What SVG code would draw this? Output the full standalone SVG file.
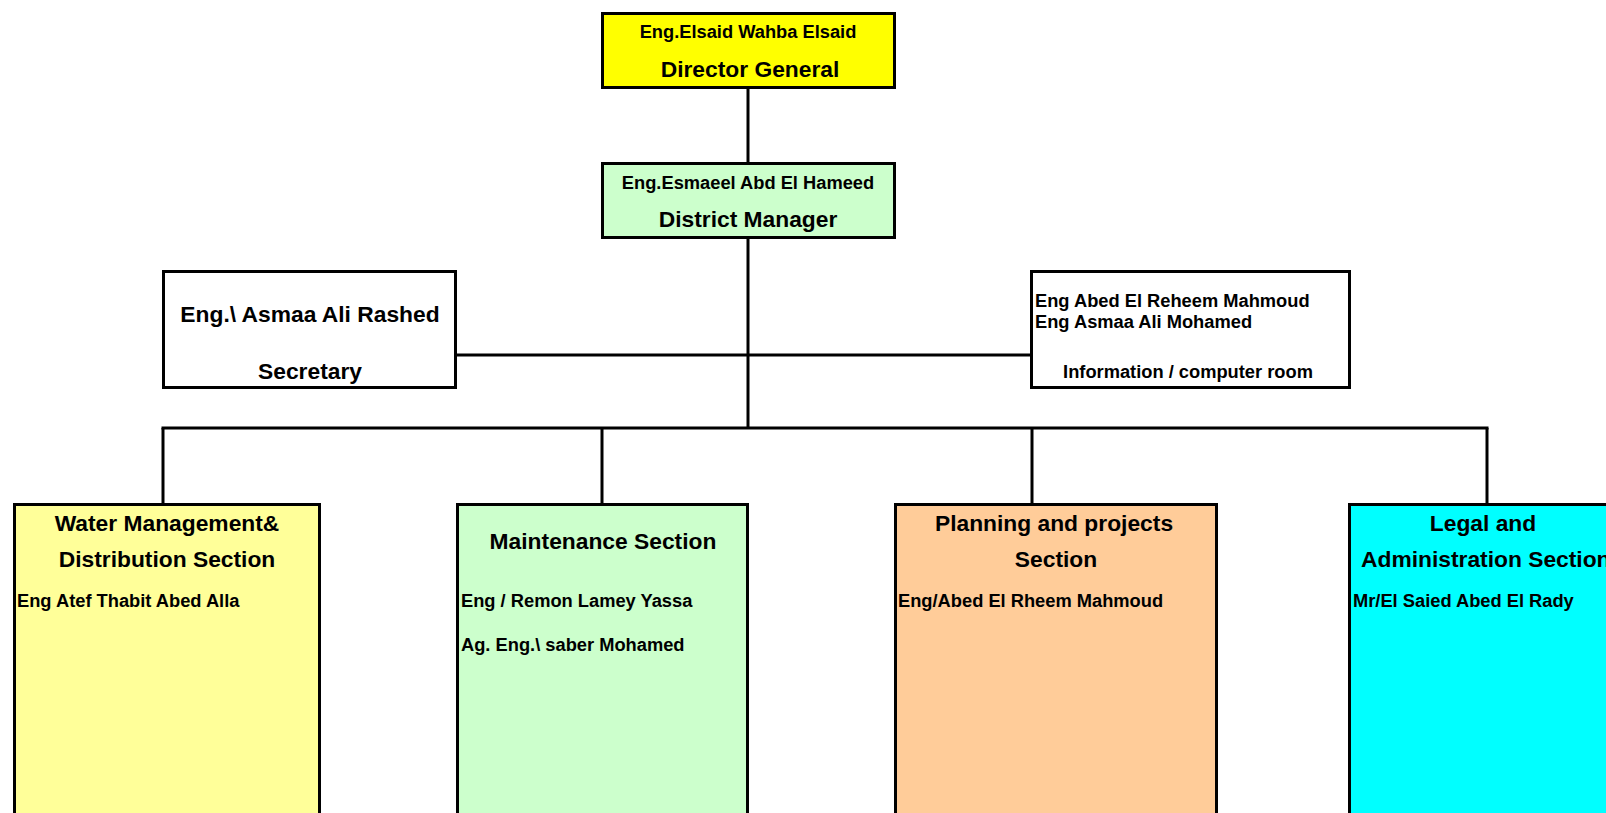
<svg xmlns="http://www.w3.org/2000/svg" width="1606" height="813" viewBox="0 0 1606 813">
<style>
  .box { stroke: #000; stroke-width: 3; }
  .t { font-family: "Liberation Sans", Arial, sans-serif; font-weight: bold; fill: #000; }
  .s { font-size: 18.3px; }
  .l { font-size: 22.8px; }
  .c { text-anchor: middle; }
  .conn { stroke: #000; stroke-width: 3; fill: none; }
</style>
<rect width="1606" height="813" fill="#fff"/>
<g id="connectors">
  <line class="conn" x1="748" y1="88" x2="748" y2="162"/>
  <line class="conn" x1="748" y1="238" x2="748" y2="428"/>
  <line class="conn" x1="457" y1="355" x2="1030" y2="355"/>
  <line class="conn" x1="161.5" y1="428" x2="1488.5" y2="428"/>
  <line class="conn" x1="163" y1="428" x2="163" y2="504"/>
  <line class="conn" x1="602" y1="428" x2="602" y2="504"/>
  <line class="conn" x1="1032" y1="428" x2="1032" y2="504"/>
  <line class="conn" x1="1487" y1="428" x2="1487" y2="504"/>
</g>
<g id="director">
  <rect class="box" x="602.5" y="13.5" width="292" height="74" fill="#FFFF00"/>
  <text class="t s c" x="748" y="38">Eng.Elsaid Wahba Elsaid</text>
  <text class="t l c" x="750" y="77">Director General</text>
</g>
<g id="district-manager">
  <rect class="box" x="602.5" y="163.5" width="292" height="74" fill="#CCFFCC"/>
  <text class="t s c" x="748" y="189">Eng.Esmaeel Abd El Hameed</text>
  <text class="t l c" x="748" y="227">District Manager</text>
</g>
<g id="secretary">
  <rect class="box" x="163.5" y="271.5" width="292" height="116" fill="#fff"/>
  <text class="t l c" x="310" y="322">Eng.\ Asmaa Ali Rashed</text>
  <text class="t l c" x="310" y="379">Secretary</text>
</g>
<g id="information">
  <rect class="box" x="1031.5" y="271.5" width="318" height="116" fill="#fff"/>
  <text class="t s" x="1035" y="307">Eng Abed El Reheem Mahmoud</text>
  <text class="t s" x="1035" y="328">Eng Asmaa Ali Mohamed</text>
  <text class="t s c" x="1188" y="378">Information / computer room</text>
</g>
<g id="water-management">
  <rect class="box" x="14.5" y="504.5" width="305" height="330" fill="#FFFF99"/>
  <text class="t l c" x="167" y="531">Water Management&amp;</text>
  <text class="t l c" x="167" y="567">Distribution Section</text>
  <text class="t s" x="17" y="607">Eng Atef Thabit Abed Alla</text>
</g>
<g id="maintenance">
  <rect class="box" x="457.5" y="504.5" width="290" height="330" fill="#CCFFCC"/>
  <text class="t l c" x="603" y="549">Maintenance Section</text>
  <text class="t s" x="461" y="607">Eng / Remon Lamey Yassa</text>
  <text class="t s" x="461" y="651">Ag. Eng.\ saber Mohamed</text>
</g>
<g id="planning">
  <rect class="box" x="895.5" y="504.5" width="321" height="330" fill="#FFCC99"/>
  <text class="t l c" x="1054" y="531">Planning and projects</text>
  <text class="t l c" x="1056" y="567">Section</text>
  <text class="t s" x="898" y="607">Eng/Abed El Rheem Mahmoud</text>
</g>
<g id="legal">
  <rect class="box" x="1349.5" y="504.5" width="400" height="330" fill="#00FFFF"/>
  <text class="t l c" x="1483" y="531">Legal and</text>
  <text class="t l" x="1361" y="567">Administration Section</text>
  <text class="t s" x="1353" y="607">Mr/El Saied Abed El Rady</text>
</g>
</svg>
